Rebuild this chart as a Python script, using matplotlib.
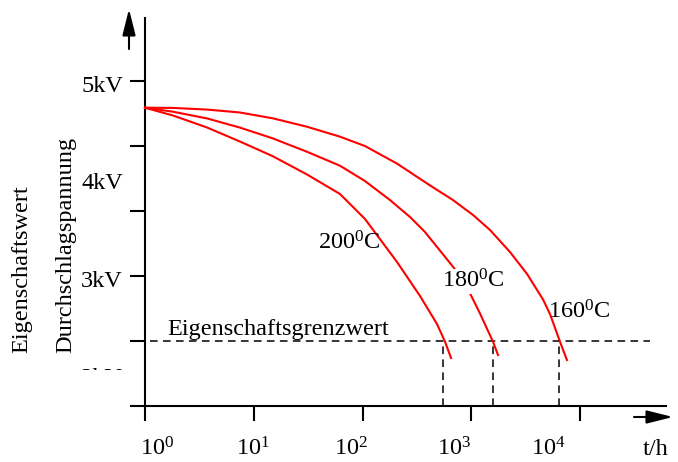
import matplotlib
matplotlib.use("Agg")
import matplotlib.pyplot as plt
from matplotlib.transforms import Bbox, TransformedBbox

# Lebensdauerlinien: Durchschlagspannung (kV) ueber Zeit t (h, log)
t_200 = [1, 1.81, 3.72, 7.47, 15.0, 30.9, 62.1, 105.4, 207.6, 338, 484, 574, 652]
kv_200 = [4.726, 4.646, 4.523, 4.379, 4.228, 4.041, 3.841, 3.585, 3.144, 2.795, 2.508, 2.326, 2.159]

t_180 = [1, 1.81, 3.72, 7.47, 15.0, 30.9, 62.1, 105.4, 179, 273.6, 375.6, 694, 914, 1202, 1585, 1762]
kv_180 = [4.726, 4.685, 4.616, 4.522, 4.411, 4.274, 4.131, 3.974, 3.779, 3.605, 3.451, 3.082, 2.884, 2.617, 2.326, 2.190]

t_160 = [1, 1.81, 3.72, 7.47, 15.0, 30.9, 62.1, 105.4, 207.6, 417.6, 679, 1038, 1487, 2271, 3258,
         4571, 5297, 6546, 7586]
kv_160 = [4.726, 4.724, 4.707, 4.677, 4.617, 4.531, 4.429, 4.333, 4.153, 3.929, 3.779, 3.626, 3.472,
          3.246, 3.021, 2.759, 2.610, 2.326, 2.138]

grenz_kv = 2.333
grenz_t = [1.11, 44000]
t_life = [550, 1585, 6410]

y_ticks = [5, 4.333, 3.667, 3.0, 2.333, 1.667]
y_labels = ["5kV", "4kV", "3kV", "2kV"]
y_label_vals = [5, 4, 3, 2]
x_ticks = [1, 10, 100, 1000, 10000]
x_labels = [r"$\mathrm{10}^{\mathrm{0}}$", r"$\mathrm{10}^{\mathrm{1}}$", r"$\mathrm{10}^{\mathrm{2}}$",
            r"$\mathrm{10}^{\mathrm{3}}$", r"$\mathrm{10}^{\mathrm{4}}$"]

W, H = 678, 462
def fx(x):
    return x / W
def fy(y):
    return 1 - y / H

plt.rcParams['font.family'] = ['Liberation Serif', 'DejaVu Serif']
plt.rcParams['mathtext.fontset'] = 'custom'
plt.rcParams['mathtext.rm'] = 'Liberation Serif'
plt.rcParams['mathtext.it'] = 'Liberation Serif:italic'
fs = 17.5

fig = plt.figure(figsize=(W / 100, H / 100), dpi=100)
ax = fig.add_axes([0, 0, 1, 1])
ax.set_xscale('log')
ax.set_xlim(10 ** (-145 / 108.75), 10 ** (533 / 108.75))
ax.set_ylim(5 - 381 / 97.5, 5 + 81 / 97.5)

for s in ['top', 'right']:
    ax.spines[s].set_visible(False)
ax.spines['left'].set_position(('data', 1))
ax.spines['left'].set_bounds(1.667, 5.646)
ax.spines['bottom'].set_position(('data', 1.667))
ax.spines['bottom'].set_bounds(1, 10 ** 4.791)
for s in ['left', 'bottom']:
    ax.spines[s].set_linewidth(1.5)

ax.set_yticks(y_ticks)
ax.set_xticks(x_ticks)
ax.xaxis.set_minor_locator(matplotlib.ticker.NullLocator())
ax.tick_params(axis='both', direction='out', length=11, width=1.5,
               labelleft=False, labelbottom=False)

red = '#ff0000'
ax.plot(t_200, kv_200, color=red, lw=1.5, zorder=3)
ax.plot(t_180, kv_180, color=red, lw=1.5, zorder=3)
ax.plot(t_160, kv_160, color=red, lw=1.5, zorder=3)

ax.plot(grenz_t, [grenz_kv, grenz_kv], color='black', lw=1.1, dashes=(5, 3.5))
ax.vlines(t_life, 1.667, grenz_kv, color='black', lw=1.1, linestyles=(0, (5, 3.5)))

ax.text(1.593, 2.395, "Eigenschaftsgrenzwert", fontsize=fs, ha='left', va='baseline')
ax.text(39.0, 3.267, r"200$^{\mathrm{0}}$C", fontsize=fs, ha='left', va='baseline', zorder=4)
ax.text(538, 2.877, r"180$^{\mathrm{0}}$C", fontsize=fs, ha='left', va='baseline', zorder=4,
        bbox=dict(facecolor='white', edgecolor='none', pad=0.5))
ax.text(5080, 2.569, r"160$^{\mathrm{0}}$C", fontsize=fs, ha='left', va='baseline', zorder=4)

# y-Beschriftung (2kV unten abgeschnitten)
clip = TransformedBbox(Bbox.from_extents(0, fy(369.5), 1, 1), fig.transFigure)
for v, lab in zip(y_label_vals, y_labels):
    t = ax.text(0.628, v - 0.11, lab, fontsize=fs, ha='right', va='baseline', clip_on=True)
    t.set_clip_box(clip)

# x-Beschriftung
x_label_px = [157, 253, 351, 454, 548]
for xp, lab in zip(x_label_px, x_labels):
    fig.text(fx(xp), fy(455), lab, fontsize=fs, ha='center', va='baseline')
fig.text(fx(643), fy(455), "t/h", fontsize=fs, ha='left', va='baseline')

fig.text(fx(22), fy(353), "Eigenschaftswert", fontsize=fs, rotation=90, ha='center', va='bottom')
fig.text(fx(66), fy(353), "Durchschlagspannung", fontsize=fs, rotation=90, ha='center', va='bottom')

# Achsenpfeile
arrow = dict(arrowstyle='-|>,head_length=16,head_width=4', color='black', lw=1.5,
             shrinkA=0, shrinkB=0, mutation_scale=1)
ax.annotate('', xy=(fx(129), fy(9)), xytext=(fx(129), fy(49)),
            xycoords='figure fraction', textcoords='figure fraction', arrowprops=arrow)
ax.annotate('', xy=(fx(673), fy(417)), xytext=(fx(634), fy(417)),
            xycoords='figure fraction', textcoords='figure fraction', arrowprops=arrow)

fig.savefig("out.png", dpi=100)
